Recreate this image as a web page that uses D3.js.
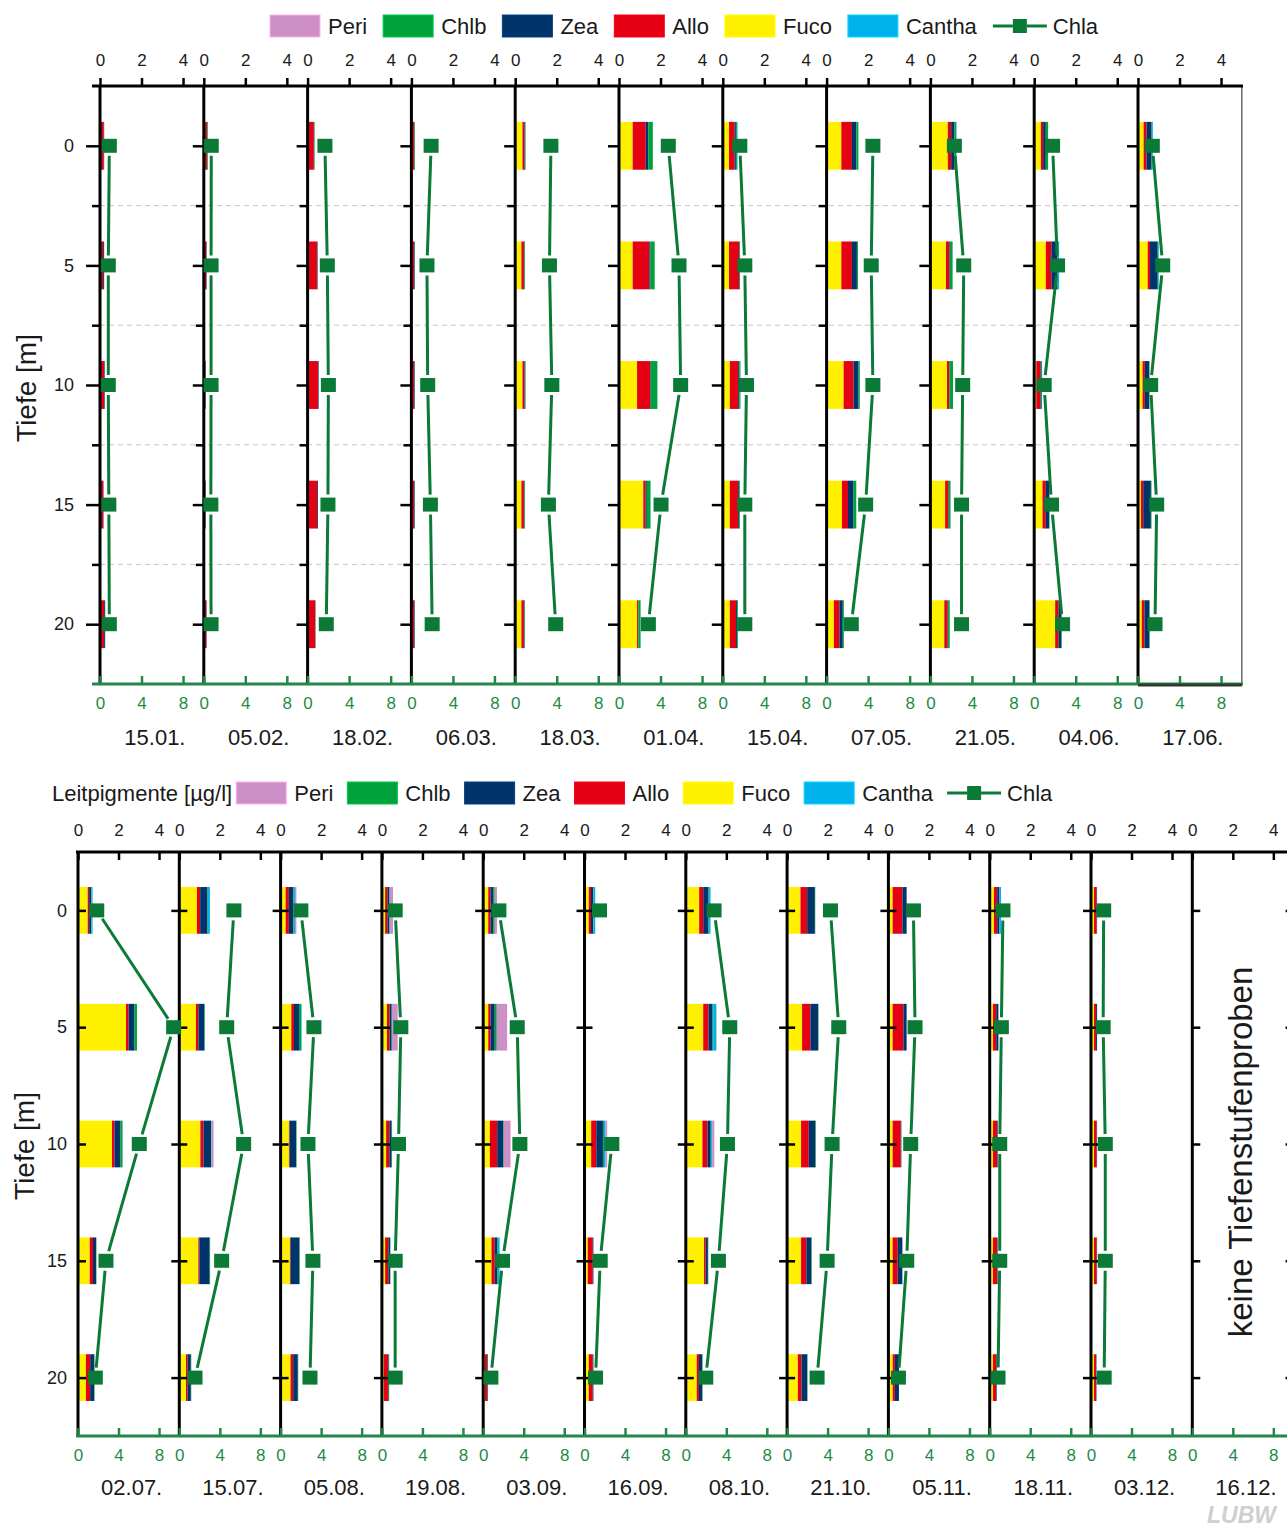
<!DOCTYPE html>
<html>
<head>
<meta charset="utf-8">
<script src="https://cdn.jsdelivr.net/npm/d3@7"></script>
<style>
  body { margin: 0; background: #fff; }
  svg { font-family: "Liberation Sans", Arial, Helvetica, sans-serif; }
</style>
</head>
<body>
<svg id="chart" width="1287" height="1531"></svg>
<script>
// ---------- data (µg/l), one row per date, columns = depths ----------
const depths = [0, 5, 10, 15, 20];
const minorDepths = [2.5, 7.5, 12.5, 17.5];

const datesTop = ['15.01.', '05.02.', '18.02.', '06.03.', '18.03.', '01.04.', '15.04.', '07.05.', '21.05.', '04.06.', '17.06.'];
const datesBottom = ['02.07.', '15.07.', '05.08.', '19.08.', '03.09.', '16.09.', '08.10.', '21.10.', '05.11.', '18.11.', '03.12.', '16.12.'];

const fucoTop = [
  [0, 0, 0, 0, 0], [0, 0, 0, 0, 0], [0, 0, 0, 0.04, 0.04], [0.05, 0.05, 0.05, 0.05, 0.05],
  [0.35, 0.3, 0.35, 0.3, 0.3], [0.66, 0.66, 0.87, 1.17, 0.87], [0.3, 0.3, 0.34, 0.34, 0.34],
  [0.71, 0.71, 0.82, 0.74, 0.35], [0.84, 0.75, 0.8, 0.71, 0.67], [0.32, 0.56, 0.1, 0.4, 1.01],
  [0.27, 0.47, 0.22, 0.14, 0.18]
];
const alloTop = [
  [0.18, 0.15, 0.2, 0.15, 0.2], [0.15, 0.12, 0.08, 0.08, 0.12], [0.3, 0.45, 0.5, 0.42, 0.32],
  [0.08, 0.08, 0.08, 0.08, 0.08], [0.1, 0.12, 0.1, 0.12, 0.12], [0.63, 0.8, 0.63, 0.11, 0.05],
  [0.27, 0.48, 0.4, 0.4, 0.3], [0.51, 0.51, 0.48, 0.29, 0.27], [0.16, 0.16, 0.11, 0.16, 0.16],
  [0.11, 0.27, 0.2, 0.16, 0.16], [0.14, 0.11, 0.11, 0.11, 0.13]
];
const zeaTop = [
  [0.02, 0.05, 0.03, 0.02, 0.05], [0.02, 0.02, 0.02, 0.02, 0.02], [0.02, 0.03, 0.03, 0.04, 0.02],
  [0.02, 0.03, 0.03, 0.03, 0.03], [0.03, 0.03, 0.03, 0.03, 0.03], [0.13, 0.06, 0.03, 0.06, 0.02],
  [0.06, 0.03, 0.06, 0.04, 0.05], [0.21, 0.24, 0.24, 0.27, 0.16], [0.16, 0.03, 0.02, 0.02, 0.02],
  [0.13, 0.29, 0.06, 0.16, 0.14], [0.24, 0.37, 0.21, 0.37, 0.24]
];
const chlbTop = [
  [0, 0, 0, 0, 0], [0.03, 0, 0, 0, 0], [0.02, 0, 0, 0, 0], [0.02, 0, 0, 0, 0],
  [0.02, 0.02, 0.02, 0.02, 0.02], [0.21, 0.2, 0.32, 0.18, 0.1], [0.05, 0.02, 0.05, 0.04, 0.04],
  [0.1, 0.05, 0.06, 0.13, 0.05], [0.08, 0.13, 0.16, 0.08, 0.08], [0.11, 0.02, 0.02, 0.02, 0.02],
  [0.03, 0.03, 0.02, 0.03, 0.02]
];
const canthaTop = [
  [0, 0, 0, 0, 0], [0, 0, 0, 0, 0], [0, 0, 0, 0, 0], [0, 0, 0, 0, 0], [0, 0, 0, 0, 0],
  [0, 0, 0, 0, 0], [0.03, 0, 0, 0, 0], [0, 0, 0, 0, 0], [0.02, 0, 0, 0, 0],
  [0, 0.06, 0, 0, 0], [0.04, 0.03, 0, 0, 0]
];
const periTop = [
  [0, 0, 0, 0, 0], [0, 0, 0, 0, 0], [0, 0, 0, 0, 0], [0, 0, 0, 0, 0], [0, 0, 0, 0, 0],
  [0, 0, 0, 0, 0], [0, 0, 0, 0, 0], [0, 0, 0, 0, 0], [0, 0, 0, 0, 0], [0, 0, 0, 0, 0],
  [0, 0, 0, 0, 0]
];
const chlaTop = [
  [0.9, 0.8, 0.8, 0.85, 0.9], [0.72, 0.7, 0.7, 0.68, 0.7], [1.67, 1.9, 2.0, 1.96, 1.8],
  [1.9, 1.5, 1.57, 1.83, 2.0], [3.44, 3.3, 3.53, 3.2, 3.9], [4.75, 5.78, 5.94, 4.05, 2.83],
  [1.64, 2.12, 2.28, 2.12, 2.12], [4.46, 4.3, 4.46, 3.76, 2.38], [2.31, 3.21, 3.11, 3.0, 3.0],
  [1.77, 2.25, 0.96, 1.67, 2.73], [1.38, 2.38, 1.22, 1.8, 1.64]
];

const fucoBottom = [
  [0.48, 2.37, 1.68, 0.58, 0.39], [0.87, 0.82, 1.04, 0.94, 0.33], [0.25, 0.53, 0.41, 0.46, 0.49],
  [0.16, 0.25, 0.21, 0.16, 0.1], [0.25, 0.25, 0.33, 0.41, 0.08], [0.21, null, 0.33, 0.16, 0.21],
  [0.66, 0.86, 0.82, 0.9, 0.54], [0.66, 0.74, 0.69, 0.69, 0.53], [0.21, 0.21, 0.21, 0.21, 0.21],
  [0.21, 0.16, 0.16, 0.16, 0.16], [0.15, 0.15, 0.15, 0.15, 0.15], [null, null, null, null, null]
];
const alloBottom = [
  [0.07, 0.13, 0.12, 0.16, 0.21], [0.16, 0.12, 0.15, 0.05, 0.08], [0.16, 0.13, 0.03, 0.03, 0.13],
  [0.11, 0.13, 0.16, 0.16, 0.21], [0.11, 0.11, 0.36, 0.16, 0.12], [0.11, null, 0.25, 0.25, 0.2],
  [0.2, 0.26, 0.25, 0.08, 0.11], [0.33, 0.41, 0.38, 0.26, 0.18], [0.48, 0.53, 0.4, 0.25, 0.11],
  [0.16, 0.16, 0.21, 0.2, 0.16], [0.13, 0.1, 0.13, 0.13, 0.1], [null, null, null, null, null]
];
const zeaBottom = [
  [0.1, 0.28, 0.3, 0.15, 0.2], [0.36, 0.3, 0.38, 0.51, 0.16], [0.21, 0.25, 0.33, 0.44, 0.23],
  [0.1, 0.1, 0.11, 0.08, 0.03], [0.13, 0.21, 0.3, 0.13, 0.03], [0.11, null, 0.33, 0.03, 0.03],
  [0.26, 0.2, 0.16, 0.11, 0.16], [0.38, 0.38, 0.33, 0.25, 0.28], [0.21, 0.16, 0.03, 0.23, 0.2],
  [0.11, 0.11, 0.03, 0.03, 0.03], [0.02, 0.05, 0.02, 0.02, 0.02], [null, null, null, null, null]
];
const chlbBottom = [
  [0.02, 0.13, 0.1, 0.02, 0.02], [0.02, 0.02, 0.02, 0.02, 0.02], [0.03, 0.1, 0.02, 0.02, 0.02],
  [0.02, 0.02, 0.02, 0.02, 0.02], [0.08, 0.1, 0.03, 0.03, 0], [0.02, null, 0.05, 0, 0],
  [0.02, 0.03, 0.02, 0.02, 0.02], [0.02, 0.02, 0.02, 0.02, 0.02], [0, 0, 0, 0, 0],
  [0, 0, 0, 0, 0], [0, 0, 0, 0, 0], [null, null, null, null, null]
];
const canthaBottom = [
  [0.05, 0, 0, 0, 0], [0.1, 0, 0, 0, 0], [0.06, 0.03, 0, 0, 0], [0, 0, 0, 0, 0],
  [0, 0, 0, 0.08, 0], [0.08, null, 0.08, 0, 0], [0.08, 0.16, 0.05, 0, 0], [0, 0, 0, 0, 0],
  [0, 0, 0, 0, 0], [0.08, 0, 0, 0, 0], [0, 0, 0, 0, 0], [null, null, null, null, null]
];
const periBottom = [
  [0, 0, 0, 0, 0], [0, 0, 0.1, 0, 0], [0.07, 0, 0, 0, 0], [0.16, 0.28, 0, 0, 0],
  [0.11, 0.51, 0.33, 0, 0], [0, null, 0.08, 0, 0], [0, 0, 0.11, 0, 0], [0, 0, 0, 0, 0],
  [0, 0, 0, 0, 0], [0, 0, 0, 0, 0], [0, 0, 0, 0, 0], [null, null, null, null, null]
];
const chlaBottom = [
  [1.85, 9.44, 6.05, 2.76, 1.71], [5.39, 4.68, 6.35, 4.18, 1.55], [2.0, 3.29, 2.7, 3.19, 2.9],
  [1.31, 1.87, 1.64, 1.31, 1.31], [1.55, 3.36, 3.62, 1.91, 0.76], [1.48, null, 2.7, 1.55, 1.09],
  [2.79, 4.34, 4.11, 3.22, 1.97], [4.28, 5.1, 4.44, 3.95, 2.96], [2.47, 2.63, 2.2, 1.81, 0.99],
  [1.31, 1.15, 0.99, 0.99, 0.82], [1.25, 1.2, 1.41, 1.41, 1.3], [null, null, null, null, null]
];

// stacking order, from the axis outwards
const pigmentKeys = ['Fuco', 'Allo', 'Zea', 'Chlb', 'Cantha', 'Peri'];
const legendKeys = ['Peri', 'Chlb', 'Zea', 'Allo', 'Fuco', 'Cantha'];
const pigmentColors = {Peri: '#cd8fc6', Chlb: '#00a23c', Zea: '#00346a', Allo: '#e50013', Fuco: '#fff000', Cantha: '#00b2ec'};
const chlaColor = '#0a7a36';
const axisGreen = '#1f8a45';
const textColor = '#1a1a1a';
const FONT = '"Liberation Sans", Arial, Helvetica, sans-serif';

// table of rows {date, depth, pigments..., chla}
function buildRows(dates, series) {
  const rows = [];
  dates.forEach((date, i) => {
    depths.forEach((depth, j) => {
      const row = {date: date, depth: depth, chla: series.Chla[i][j]};
      pigmentKeys.forEach(k => row[k] = series[k][i][j]);
      row.missing = pigmentKeys.every(k => row[k] == null);
      rows.push(row);
    });
  });
  return rows;
}

function styleAxis(g, color, width, size, labelColor) {
  g.select('.domain').remove();
  g.attr('font-family', FONT).attr('font-size', size);
  g.selectAll('.tick line').attr('stroke', color).attr('stroke-width', width);
  g.selectAll('.tick text').attr('fill', labelColor || textColor);
}

class ProfileChart {

  constructor(_config, _data, _type) {
    this.config = {
      parentElement: _config.parentElement,
      dates: _config.dates,
      left: _config.left,
      panelWidth: _config.panelWidth,
      top: _config.top,
      bottom: _config.bottom,
      lineStart: _config.lineStart,
      lineEnd: _config.lineEnd,
      dateBaseline: _config.dateBaseline
    };
    this.data = _data;
    this.type = _type;
    this.initVis();
  }

  initVis() {
    let vis = this;
    const c = vis.config;

    // one band per sampling date, each band is a small profile panel
    vis.panelScale = d3.scaleBand()
        .domain(c.dates)
        .range([c.left, c.left + c.panelWidth * c.dates.length]);

    vis.xPig = d3.scaleLinear().domain([0, 5]).range([0, c.panelWidth]);
    vis.xChla = d3.scaleLinear().domain([0, 10]).range([0, c.panelWidth]);
    vis.yScale = d3.scaleLinear().domain([-2.5, 22.5]).range([c.top, c.bottom]);

    vis.svg = d3.select(c.parentElement);
    vis.chart = vis.svg.append('g').attr('class', 'block-' + vis.type);

    vis.updateVis();
  }

  updateVis() {
    let vis = this;
    vis.stacked = d3.stack()
        .keys(pigmentKeys)
        .value((d, key) => d[key] || 0)(vis.data.filter(d => !d.missing));
    vis.renderVis();
  }

  renderVis() {
    let vis = this;
    const c = vis.config;
    const pw = vis.panelScale.bandwidth();
    const px = d => vis.panelScale(d);
    const y = vis.yScale;
    const right = c.left + pw * c.dates.length;
    const fmt = d3.format('d');

    // dashed guide lines between the depth steps
    if (vis.type == 'top') {
      vis.chart.selectAll('.grid')
          .data(minorDepths)
        .join('line')
          .attr('class', 'grid')
          .attr('x1', c.left).attr('x2', right)
          .attr('y1', d => y(d)).attr('y2', d => y(d))
          .attr('stroke', '#c6c6c6').attr('stroke-width', 1)
          .attr('stroke-dasharray', '5,4');
    }

    // stacked pigment bars
    vis.chart.selectAll('.layer')
        .data(vis.stacked)
      .join('g')
        .attr('class', 'layer')
        .attr('fill', d => pigmentColors[d.key])
      .selectAll('rect')
        .data(d => d.filter(p => p[1] > p[0]))
      .join('rect')
        .attr('x', p => px(p.data.date) + vis.xPig(p[0]))
        .attr('width', p => vis.xPig(p[1]) - vis.xPig(p[0]))
        .attr('y', p => y(p.data.depth - 1))
        .attr('height', p => y(p.data.depth + 1) - y(p.data.depth - 1));

    // box round the last upper panel
    if (vis.type == 'top') {
      const last = c.dates[c.dates.length - 1];
      vis.chart.append('rect')
          .attr('x', px(last)).attr('y', c.top)
          .attr('width', pw).attr('height', c.bottom - c.top)
          .attr('fill', 'none').attr('stroke', '#6a6a6a').attr('stroke-width', 1.5);
    }

    // panel axis lines
    vis.chart.selectAll('.panel-line')
        .data(c.dates)
      .join('line')
        .attr('class', 'panel-line')
        .attr('x1', d => px(d)).attr('x2', d => px(d))
        .attr('y1', c.top).attr('y2', c.bottom)
        .attr('stroke', '#000').attr('stroke-width', 3);

    // depth ticks of every panel
    c.dates.forEach((date, i) => {
      const g = vis.chart.append('g').attr('transform', `translate(${px(date)},0)`);
      if (vis.type == 'top') {
        g.append('g')
            .call(d3.axisLeft(y).tickValues(depths).tickSize(i == 0 ? 14 : 11).tickPadding(12)
              .tickFormat(i == 0 ? fmt : ''))
            .call(s => styleAxis(s, '#000', 2.5, 18));
        g.append('g')
            .call(d3.axisLeft(y).tickValues(minorDepths).tickSize(8).tickFormat(''))
            .call(s => styleAxis(s, '#000', 2.5, 18));
      } else {
        const hasData = vis.data.some(d => d.date == date && !d.missing);
        if (i == 0) {
          g.append('g')
              .call(d3.axisLeft(y).tickValues(depths).tickSize(0).tickPadding(11).tickFormat(fmt))
              .call(s => styleAxis(s, '#000', 2.5, 18));
        } else if (hasData) {
          g.append('g')
              .call(d3.axisLeft(y).tickValues(depths).tickSize(8).tickFormat(''))
              .call(s => styleAxis(s, '#000', 2.5, 18));
        }
        g.append('g')
            .call(d3.axisRight(y).tickValues(depths).tickSize(8).tickFormat(''))
            .call(s => styleAxis(s, '#000', 2.5, 18));
      }

      // pigment axis on top
      g.append('g')
          .attr('transform', `translate(0,${c.top})`)
          .call(d3.axisTop(vis.xPig).tickValues([0, 2, 4]).tickFormat(fmt)
            .tickSize(vis.type == 'top' ? 8 : -8).tickPadding(vis.type == 'top' ? 12 : 16))
          .call(s => styleAxis(s, '#000', 2.5, 17));

      // chlorophyll a axis at the bottom
      g.append('g')
          .attr('transform', `translate(0,${c.bottom})`)
          .call(d3.axisBottom(vis.xChla).tickValues([0, 4, 8]).tickFormat(fmt).tickSize(-8).tickPadding(13))
          .call(s => styleAxis(s, axisGreen, 2.5, 17, axisGreen));
    });

    // ticks of the panel that is cut off at the right edge
    if (vis.type == 'bottom') {
      vis.chart.append('g')
          .attr('transform', `translate(${right},0)`)
          .call(d3.axisLeft(y).tickValues(depths).tickSize(8).tickFormat(''))
          .call(s => styleAxis(s, '#000', 2.5, 18));
    }

    // long axis lines
    vis.chart.append('line')
        .attr('x1', c.lineStart).attr('x2', c.lineEnd)
        .attr('y1', c.top).attr('y2', c.top)
        .attr('stroke', '#000').attr('stroke-width', 3);
    vis.chart.append('line')
        .attr('x1', c.lineStart).attr('x2', c.lineEnd)
        .attr('y1', c.bottom).attr('y2', c.bottom)
        .attr('stroke', axisGreen).attr('stroke-width', 3);
    if (vis.type == 'top') {
      const last = c.dates[c.dates.length - 1];
      vis.chart.append('line')
          .attr('x1', px(last)).attr('x2', px(last) + pw)
          .attr('y1', c.bottom + 1).attr('y2', c.bottom + 1)
          .attr('stroke', '#2f3a30').attr('stroke-width', 3);
    }

    // Chla profile: segments between neighbouring depths, with a small gap at the symbols
    const gap = 10;
    const segments = [];
    c.dates.forEach(date => {
      const pts = vis.data.filter(d => d.date == date);
      for (let j = 0; j < pts.length - 1; j++) {
        const a = pts[j], b = pts[j + 1];
        if (a.chla == null || b.chla == null) continue;
        const x1 = px(date) + vis.xChla(a.chla), y1 = y(a.depth);
        const x2 = px(date) + vis.xChla(b.chla), y2 = y(b.depth);
        const len = Math.hypot(x2 - x1, y2 - y1);
        const ux = (x2 - x1) / len, uy = (y2 - y1) / len;
        segments.push([x1 + ux * gap, y1 + uy * gap, x2 - ux * gap, y2 - uy * gap]);
      }
    });
    vis.chart.selectAll('.chla-seg')
        .data(segments)
      .join('line')
        .attr('class', 'chla-seg')
        .attr('x1', d => d[0]).attr('y1', d => d[1])
        .attr('x2', d => d[2]).attr('y2', d => d[3])
        .attr('stroke', chlaColor).attr('stroke-width', 3);

    vis.chart.selectAll('.chla-pt')
        .data(vis.data.filter(d => d.chla != null))
      .join('rect')
        .attr('class', 'chla-pt')
        .attr('x', d => px(d.date) + vis.xChla(d.chla) - 7.5)
        .attr('y', d => y(d.depth) - 7)
        .attr('width', 15).attr('height', 14)
        .attr('fill', chlaColor);

    // date labels
    vis.chart.selectAll('.date-label')
        .data(c.dates)
      .join('text')
        .attr('class', 'date-label')
        .attr('x', d => px(d) + pw / 2 + 3)
        .attr('y', c.dateBaseline)
        .attr('text-anchor', 'middle')
        .attr('font-size', 22)
        .attr('fill', textColor)
        .text(d => d);
  }
}

function drawLegend(svg, startX, cy, spacing, label) {
  const g = svg.append('g').attr('font-size', 22).attr('fill', textColor);
  let x = startX;
  if (label) {
    const t = g.append('text').attr('x', x).attr('y', cy + 8).text(label);
    x += t.node().getComputedTextLength() + 4;
  }
  legendKeys.forEach(k => {
    g.append('rect')
        .attr('x', x).attr('y', cy - 11).attr('width', 50).attr('height', 22)
        .attr('fill', pigmentColors[k])
        .attr('stroke', d3.color(pigmentColors[k]).brighter(0.6)).attr('stroke-width', 1);
    const t = g.append('text').attr('x', x + 58).attr('y', cy + 8).text(k);
    x += 58 + t.node().getComputedTextLength() + spacing;
  });
  g.append('line').attr('x1', x).attr('x2', x + 20).attr('y1', cy).attr('y2', cy)
      .attr('stroke', chlaColor).attr('stroke-width', 3);
  g.append('line').attr('x1', x + 34).attr('x2', x + 54).attr('y1', cy).attr('y2', cy)
      .attr('stroke', chlaColor).attr('stroke-width', 3);
  g.append('rect').attr('x', x + 20).attr('y', cy - 7).attr('width', 14).attr('height', 14)
      .attr('fill', chlaColor);
  g.append('text').attr('x', x + 60).attr('y', cy + 8).text('Chla');
}

function yTitle(svg, x, y, text, size) {
  svg.append('text')
      .attr('transform', `translate(${x},${y}) rotate(-90)`)
      .attr('text-anchor', 'middle')
      .attr('font-size', size)
      .attr('fill', textColor)
      .text(text);
}

// ---------- build ----------
const svg = d3.select('#chart');
svg.append('rect').attr('width', 1287).attr('height', 1531).attr('fill', '#fff');

const rowsTop = buildRows(datesTop, {Fuco: fucoTop, Allo: alloTop, Zea: zeaTop, Chlb: chlbTop,
  Cantha: canthaTop, Peri: periTop, Chla: chlaTop});
const rowsBottom = buildRows(datesBottom, {Fuco: fucoBottom, Allo: alloBottom, Zea: zeaBottom, Chlb: chlbBottom,
  Cantha: canthaBottom, Peri: periBottom, Chla: chlaBottom});

new ProfileChart({
  parentElement: '#chart', dates: datesTop, left: 100, panelWidth: 103.8,
  top: 86, bottom: 684, lineStart: 92, lineEnd: 1243, dateBaseline: 745
}, rowsTop, 'top');

new ProfileChart({
  parentElement: '#chart', dates: datesBottom, left: 78, panelWidth: 101.3,
  top: 852, bottom: 1436, lineStart: 76, lineEnd: 1287, dateBaseline: 1495
}, rowsBottom, 'bottom');

drawLegend(svg, 270, 26, 16, null);
drawLegend(svg, 52, 793, 14, 'Leitpigmente [µg/l]');

yTitle(svg, 36, 388, 'Tiefe [m]', 28);
yTitle(svg, 34, 1146, 'Tiefe [m]', 28);

svg.append('text')
    .attr('transform', 'translate(1252,1152) rotate(-90)')
    .attr('text-anchor', 'middle')
    .attr('font-size', 33)
    .attr('fill', textColor)
    .text('keine Tiefenstufenproben');

svg.append('text')
    .attr('x', 1276).attr('y', 1523)
    .attr('text-anchor', 'end')
    .attr('font-size', 23).attr('font-weight', 'bold').attr('font-style', 'italic')
    .attr('fill', '#cfcfcf')
    .text('LUBW');
</script>
</body>
</html>
